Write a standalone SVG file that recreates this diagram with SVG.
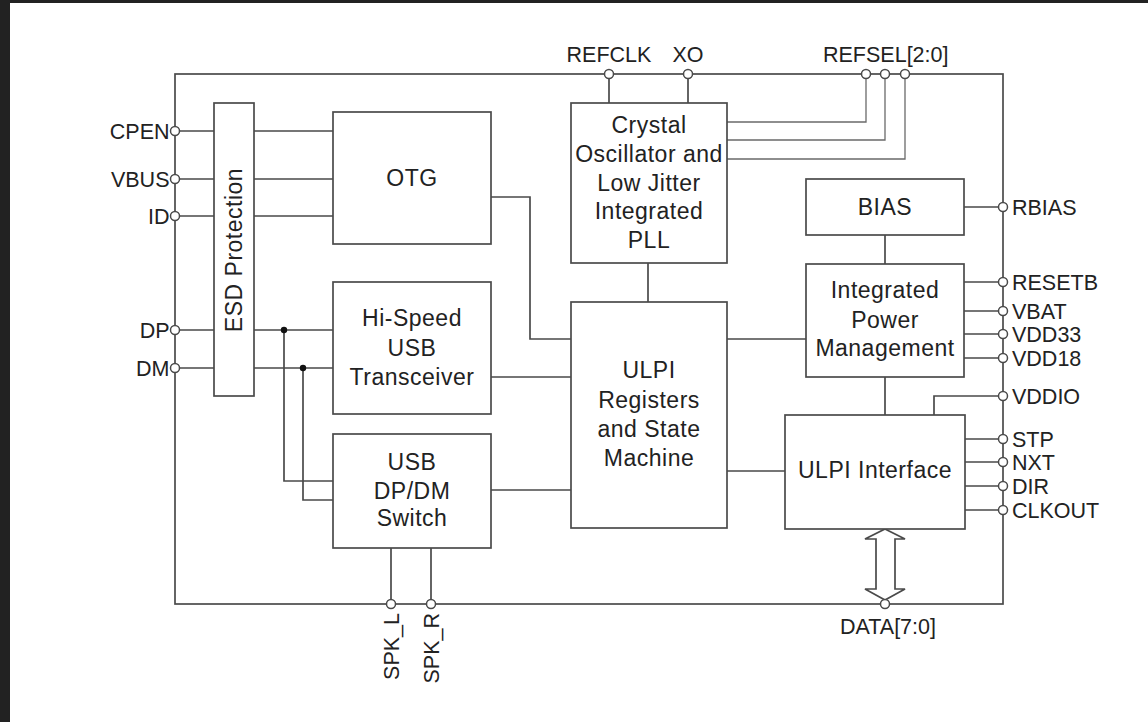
<svg xmlns="http://www.w3.org/2000/svg" width="1148" height="722" viewBox="0 0 1148 722">
<style>
.box{fill:#fff;stroke:#4a4a4a;stroke-width:1.7}
.ln{fill:none;stroke:#4a4a4a;stroke-width:1.7}
.thin{fill:none;stroke:#6a6a6a;stroke-width:1.3}
.pin{fill:#fff;stroke:#4a4a4a;stroke-width:1.5}
.bt{font-family:"Liberation Sans",Arial,sans-serif;font-size:23px;fill:#222;text-anchor:middle;letter-spacing:0.5px}
.pl{font-family:"Liberation Sans",Arial,sans-serif;font-size:21.5px;fill:#222}
</style>
<rect x="0" y="0" width="1148" height="722" fill="#222"/>
<rect x="10" y="3" width="1138" height="719" fill="#fff"/>

<g id="chip"><rect x="175" y="74" width="828" height="530" style="fill:none;stroke:#4a4a4a;stroke-width:1.7"/></g>

<g id="connectors">
  <path class="ln" d="M175,131H214M254,131H333M175,179H214M254,179H333M175,216H214M254,216H333"/>
  <path class="ln" d="M175,330H214M254,330H333M175,368H214M254,368H333"/>
  <path class="ln" d="M284,330V481H333M303,368V500H333"/>
  <circle cx="284" cy="330" r="3.2" fill="#111"/>
  <circle cx="303" cy="368" r="3.2" fill="#111"/>
  <path class="ln" d="M491,197H530V339H571M491,377H571M491,490H571"/>
  <path class="ln" d="M648,263V302M609,74V103M688,74V103"/>
  <path class="thin" d="M727,122H866V74M727,140H885V74M727,159H905V74"/>
  <path class="ln" d="M727,339H806M727,471H785"/>
  <path class="ln" d="M964,207H1003M885,235V264M885,377V415"/>
  <path class="ln" d="M964,282H1003M964,311H1003M964,334H1003M964,358H1003"/>
  <path class="ln" d="M1003,396H934V415"/>
  <path class="ln" d="M965,439H1003M965,462H1003M965,486H1003M965,510H1003"/>
  <path class="ln" d="M391,548V604M431,548V604"/>
  <polygon class="box" points="885,529 905,539 895,539 895,589 905,589 885,600 865,589 876,589 876,539 865,539"/>
</g>

<g id="esd"><rect class="box" x="214" y="103" width="40" height="293"/>
<text class="bt" transform="translate(242,250) rotate(-90)">ESD Protection</text></g>

<g id="otg"><rect class="box" x="333" y="112" width="158" height="132"/>
<text class="bt" x="412" y="186">OTG</text></g>

<g id="hispeed"><rect class="box" x="333" y="282" width="158" height="132"/>
<text class="bt" x="412" y="326">Hi-Speed</text><text class="bt" x="412" y="356">USB</text><text class="bt" x="412" y="385">Transceiver</text></g>

<g id="switch"><rect class="box" x="333" y="434" width="158" height="114"/>
<text class="bt" x="412" y="470">USB</text><text class="bt" x="412" y="499">DP/DM</text><text class="bt" x="412" y="526">Switch</text></g>

<g id="crystal"><rect class="box" x="571" y="103" width="156" height="160"/>
<text class="bt" x="649" y="133">Crystal</text><text class="bt" x="649" y="162">Oscillator and</text><text class="bt" x="649" y="191">Low Jitter</text><text class="bt" x="649" y="219">Integrated</text><text class="bt" x="649" y="248">PLL</text></g>

<g id="ulpi-regs"><rect class="box" x="571" y="302" width="156" height="226"/>
<text class="bt" x="649" y="378">ULPI</text><text class="bt" x="649" y="408">Registers</text><text class="bt" x="649" y="437">and State</text><text class="bt" x="649" y="466">Machine</text></g>

<g id="bias"><rect class="box" x="806" y="179" width="158" height="56"/>
<text class="bt" x="885" y="215">BIAS</text></g>

<g id="ipm"><rect class="box" x="806" y="264" width="158" height="113"/>
<text class="bt" x="885" y="298">Integrated</text><text class="bt" x="885" y="328">Power</text><text class="bt" x="885" y="356">Management</text></g>

<g id="ulpi-if"><rect class="box" x="785" y="415" width="180" height="114"/>
<text class="bt" x="875" y="478">ULPI Interface</text></g>

<g id="pins">
  <circle class="pin" cx="175" cy="131" r="4.5"/><circle class="pin" cx="175" cy="179" r="4.5"/><circle class="pin" cx="175" cy="216" r="4.5"/>
  <circle class="pin" cx="175" cy="330" r="4.5"/><circle class="pin" cx="175" cy="368" r="4.5"/>
  <circle class="pin" cx="609" cy="74" r="4.5"/><circle class="pin" cx="688" cy="74" r="4.5"/>
  <circle class="pin" cx="866" cy="74" r="4.5"/><circle class="pin" cx="885" cy="74" r="4.5"/><circle class="pin" cx="905" cy="74" r="4.5"/>
  <circle class="pin" cx="1003" cy="207" r="4.5"/><circle class="pin" cx="1003" cy="282" r="4.5"/><circle class="pin" cx="1003" cy="311" r="4.5"/>
  <circle class="pin" cx="1003" cy="334" r="4.5"/><circle class="pin" cx="1003" cy="358" r="4.5"/><circle class="pin" cx="1003" cy="396" r="4.5"/>
  <circle class="pin" cx="1003" cy="439" r="4.5"/><circle class="pin" cx="1003" cy="462" r="4.5"/><circle class="pin" cx="1003" cy="486" r="4.5"/><circle class="pin" cx="1003" cy="510" r="4.5"/>
  <circle class="pin" cx="391" cy="604" r="4.5"/><circle class="pin" cx="431" cy="604" r="4.5"/><circle class="pin" cx="885" cy="604" r="4.5"/>
</g>

<g id="pin-labels">
  <text class="pl" x="169.5" y="138.5" text-anchor="end">CPEN</text>
  <text class="pl" x="169.5" y="186.5" text-anchor="end">VBUS</text>
  <text class="pl" x="169.5" y="223.5" text-anchor="end">ID</text>
  <text class="pl" x="169.5" y="337.5" text-anchor="end">DP</text>
  <text class="pl" x="169.5" y="375.5" text-anchor="end">DM</text>
  <text class="pl" x="609" y="62" text-anchor="middle">REFCLK</text>
  <text class="pl" x="688" y="62" text-anchor="middle">XO</text>
  <text class="pl" x="823" y="62">REFSEL[2:0]</text>
  <text class="pl" x="1012" y="214.5">RBIAS</text>
  <text class="pl" x="1012" y="289.5">RESETB</text>
  <text class="pl" x="1012" y="318.5">VBAT</text>
  <text class="pl" x="1012" y="341.5">VDD33</text>
  <text class="pl" x="1012" y="365.5">VDD18</text>
  <text class="pl" x="1012" y="403.5">VDDIO</text>
  <text class="pl" x="1012" y="446.5">STP</text>
  <text class="pl" x="1012" y="469.5">NXT</text>
  <text class="pl" x="1012" y="493.5">DIR</text>
  <text class="pl" x="1012" y="517.5">CLKOUT</text>
  <text class="pl" x="888" y="634" text-anchor="middle">DATA[7:0]</text>
  <text class="pl" transform="translate(398.5,613) rotate(-90)" text-anchor="end">SPK_L</text>
  <text class="pl" transform="translate(438.5,613) rotate(-90)" text-anchor="end">SPK_R</text>
</g>
</svg>
